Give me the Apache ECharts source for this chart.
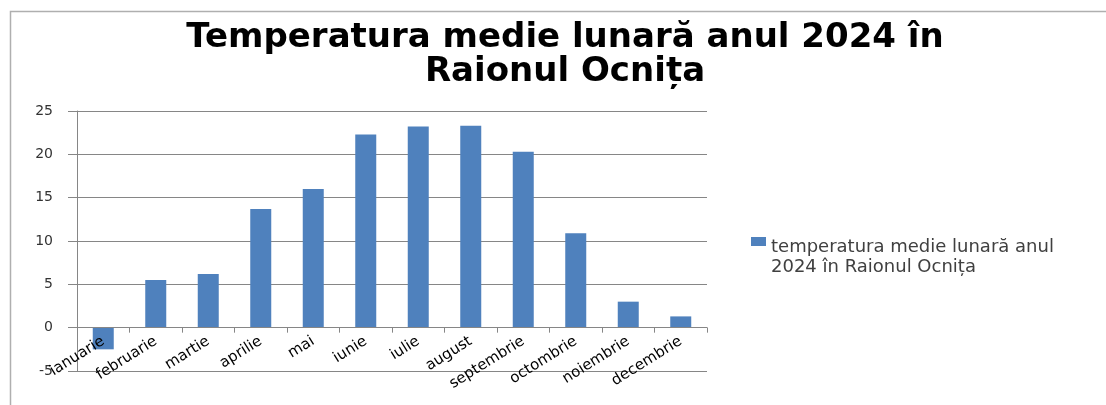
<!DOCTYPE html>
<html>
<head>
<meta charset="utf-8">
<script src="https://cdn.jsdelivr.net/npm/echarts@6/dist/echarts.min.js"></script>
<style>
html,body{margin:0;padding:0;background:#fff;}
#chart{width:1106px;height:405px;}
</style>
</head>
<body>
<div id="chart"></div>
<script>
var titleText = 'Temperatura medie lunară anul 2024 în\nRaionul Ocnița';
var seriesName = 'temperatura medie lunară anul 2024 în Raionul Ocnița';
var legendLines = 'temperatura medie lunară anul\n2024 în Raionul Ocnița';
var categories = ['ianuarie','februarie','martie','aprilie','mai','iunie','iulie','august','septembrie','octombrie','noiembrie','decembrie'];
var values = [-2.5, 5.5, 6.2, 13.7, 16.0, 22.3, 23.2, 23.3, 20.3, 10.9, 3.0, 1.3];
var yMin = -5, yMax = 25, yStep = 5;

var chart = echarts.init(document.getElementById('chart'), null, {renderer: 'canvas'});
chart.setOption({
  animation: false,
  backgroundColor: '#ffffff',
  graphic: [{
    type: 'rect',
    silent: true,
    shape: {x: 10.5, y: 11.5, width: 1300, height: 600},
    style: {fill: 'none', stroke: '#AFAFAF', lineWidth: 1.5}
  }],
  title: {
    text: titleText,
    left: 565,
    textAlign: 'center',
    top: 21,
    padding: 0,
    textStyle: {
      fontFamily: 'DejaVu Sans',
      fontWeight: 'bold',
      fontSize: 34,
      lineHeight: 34,
      color: '#000000'
    }
  },
  legend: {
    orient: 'vertical',
    left: 746,
    top: 232,
    itemWidth: 15,
    itemHeight: 40,
    icon: 'path://M0 0H15V9H0Z M0 39.9H0.1V40H0Z',
    itemStyle: {borderWidth: 0},
    formatter: function () { return legendLines; },
    textStyle: {fontFamily: 'DejaVu Sans', fontSize: 18, lineHeight: 20, color: '#404040'},
    data: [seriesName]
  },
  grid: {left: 77, right: 399, top: 111, bottom: 34, containLabel: false, outerBoundsMode: 'none'},
  xAxis: {
    type: 'category',
    data: categories,
    z: 5,
    axisLine: {show: true, onZero: true, lineStyle: {color: '#868686', width: 1}},
    axisTick: {show: true, length: 5, alignWithLabel: false, lineStyle: {color: '#868686'}},
    axisLabel: {rotate: 32, interval: 0, margin: -31, fontFamily: 'DejaVu Sans', fontSize: 15, color: '#000000'},
    splitLine: {show: false}
  },
  yAxis: {
    type: 'value',
    min: yMin,
    max: yMax,
    interval: yStep,
    axisLine: {show: true, lineStyle: {color: '#868686', width: 1}},
    axisTick: {show: true, length: 9, lineStyle: {color: '#868686'}},
    axisLabel: {margin: 24, fontFamily: 'DejaVu Sans', fontSize: 14, color: '#333333'},
    splitLine: {show: true, lineStyle: {color: '#868686', width: 1}}
  },
  series: [{
    name: seriesName,
    type: 'bar',
    data: values,
    barWidth: 21,
    itemStyle: {color: '#4F81BD'}
  }]
});
</script>
</body>
</html>
